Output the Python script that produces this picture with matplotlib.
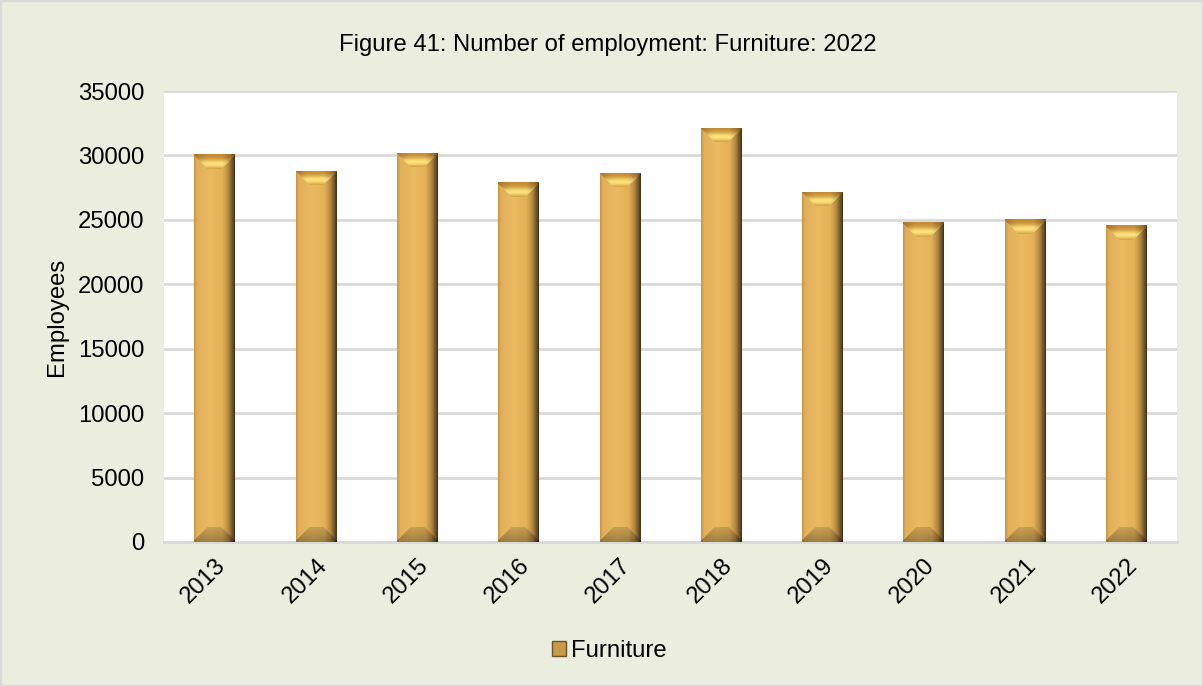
import numpy as np
import matplotlib
matplotlib.use("Agg")
import matplotlib.pyplot as plt
from matplotlib.patches import Rectangle, Patch

# employment in the furniture industry, per year
years = ["2013", "2014", "2015", "2016", "2017", "2018", "2019", "2020", "2021", "2022"]
employees = [30100, 28800, 30200, 27900, 28650, 32130, 27190, 24810, 25050, 24600]

BG = "#EBEEDF"
GRID = "#D9D9D9"
FS = 17.2

plt.rcParams["font.family"] = ["Liberation Sans", "DejaVu Sans"]


def bevel_image(w_px, h_px, bevel=15):
    """RGBA image of a gold bar with a bevelled top and bottom."""
    w_px = max(int(round(w_px)), 4)
    h_px = max(int(round(h_px)), 4)
    u = np.linspace(0, 1, w_px)
    # colour across the bar, left to right
    stops = [0.0, 0.06, 0.4, 0.7, 0.85, 0.95, 1.0]
    cols = np.array([
        [200, 152, 70],
        [224, 175, 88],
        [234, 186, 96],
        [227, 177, 88],
        [180, 136, 63],
        [110, 84, 40],
        [68, 54, 30],
    ]) / 255.0
    prof = np.stack([np.interp(u, stops, cols[:, c]) for c in range(3)], axis=1)
    img = np.repeat(prof[None, :, :], h_px, axis=0)

    x = np.arange(w_px)[None, :].repeat(h_px, axis=0)
    y = np.arange(h_px)[:, None].repeat(w_px, axis=1)
    side = np.minimum(x, w_px - 1 - x)
    dt = y
    db = h_px - 1 - y
    b = min(bevel, h_px // 2)

    top = (dt < b) & (dt <= side + 1)
    bot = (db < b) & (db <= side + 1) & ~top

    # top facet: ochre at the edge, bright yellow band lower down
    t = dt / max(b, 1)
    band = np.clip(np.exp(-((t - 0.62) / 0.3) ** 2), 0, 1)
    edge = np.array([196, 138, 52]) / 255.0
    glow = np.array([255, 226, 124]) / 255.0
    ux = x / (w_px - 1)
    lr = np.interp(ux, [0, 0.3, 0.7, 0.9, 1.0], [0.85, 1.0, 1.0, 0.8, 0.55])
    face = edge * (1 - band[..., None]) + glow * band[..., None]
    face = face * lr[..., None]
    img = np.where(top[..., None], face, img)

    # bottom facet: darker towards the base
    s = db / max(b, 1)
    img = np.where(bot[..., None], img * (0.7 + 0.18 * s)[..., None], img)

    rgba = np.concatenate([img.clip(0, 1), np.ones((h_px, w_px, 1))], axis=2)
    return rgba


fig = plt.figure(figsize=(12.03, 6.86), dpi=100, facecolor=BG)
fig.patches.append(Rectangle((0, 0), 1, 1, transform=fig.transFigure,
                             fill=False, edgecolor=GRID, linewidth=2.5))

ax = fig.add_axes([164 / 1203, 1 - 542 / 686, (1177 - 164) / 1203, (542 - 91) / 686])
ax.set_facecolor("white")

xpos = np.arange(len(years))
bars = ax.bar(xpos, employees, width=0.4, color="#E2B35C", zorder=2)

ax.set_xlim(-0.5, len(years) - 0.5)
ax.set_ylim(0, 35000)
ax.set_yticks(np.arange(0, 35001, 5000))
ax.yaxis.grid(True, color=GRID, linewidth=2, zorder=0)
ax.set_axisbelow(True)
for s in ["top", "right", "left"]:
    ax.spines[s].set_visible(False)
ax.spines["bottom"].set_color(GRID)
ax.spines["bottom"].set_linewidth(2)
ax.tick_params(axis="y", length=0, labelsize=FS, pad=14)
ax.tick_params(axis="x", length=0, labelsize=FS, pad=9)
ax.set_xticks(xpos)
ax.set_xticklabels(years, rotation=45, ha="right", va="top", rotation_mode="anchor")
ax.set_ylabel("Employees", fontsize=FS, labelpad=7)

# shaded overlay for every bar, sized from the bar patch itself
for bar in bars:
    x0, w, h = bar.get_x(), bar.get_width(), bar.get_height()
    p0 = ax.transData.transform((x0, 0))
    p1 = ax.transData.transform((x0 + w, h))
    img = bevel_image(p1[0] - p0[0], p1[1] - p0[1])
    im = ax.imshow(img, extent=(x0, x0 + w, 0, h), aspect="auto",
                   interpolation="bilinear", zorder=3)
    im.set_clip_path(bar)

ax.set_xlim(-0.5, len(years) - 0.5)
ax.set_ylim(0, 35000)

fig.text(608 / 1203, 1 - 45 / 686, "Figure 41: Number of employment: Furniture: 2022",
         ha="center", va="center", fontsize=FS)

handle = Patch(facecolor="#C99A4A", edgecolor="#6B5228", linewidth=1)
fig.legend([handle], ["Furniture"], loc="center", bbox_to_anchor=(609 / 1203, 1 - 651 / 686),
           frameon=False, fontsize=FS, handlelength=0.6, handleheight=0.6, handletextpad=0.2)

fig.savefig("out.png", dpi=100, facecolor=BG)
